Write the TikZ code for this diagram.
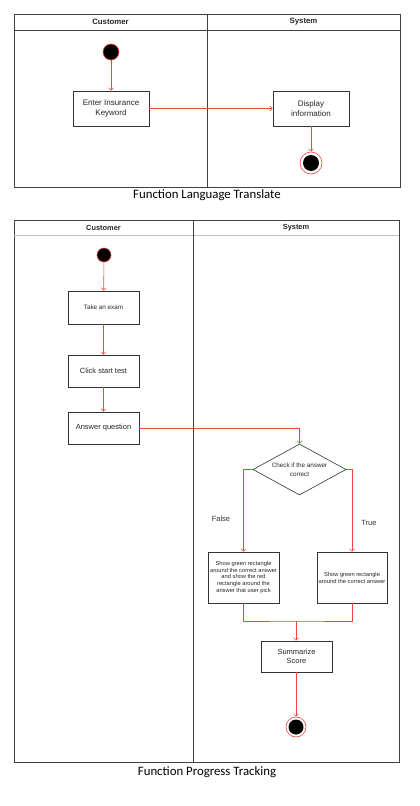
\documentclass[tikz,border=0pt]{standalone}
\usepackage{fontspec}
\setsansfont{Liberation Sans}
\newfontfamily\capfont{Carlito}
\usetikzlibrary{arrows.meta,positioning,shapes.geometric}
\definecolor{flowred}{RGB}{238,70,60}

\begin{document}
\begin{tikzpicture}[x=1pt,y=-1pt,
  lane/.style={draw=black!75,line width=0.8pt},
  head/.style={font=\sffamily\bfseries\fontsize{7.8}{9}\selectfont,text=black!85},
  act/.style={draw=black!80,fill=white,line width=0.7pt,align=center,inner sep=1pt,
    minimum width=71pt,minimum height=32pt,text=black!85,
    font=\sffamily\fontsize{7.5}{9}\selectfont},
  dec/.style={diamond,draw=black!80,line width=0.6pt,aspect=1.8,inner sep=0pt,align=center,
    minimum width=93pt,minimum height=51pt,text=black!85,
    font=\sffamily\fontsize{6.3}{9}\selectfont},
  init/.style={circle,fill=black,draw=flowred,line width=0.6pt,inner sep=0pt},
  final/.style={circle,draw=flowred,fill=white,line width=0.6pt,inner sep=0pt,
    path picture={\fill[black] (path picture bounding box.center) circle (#1);}},
  flow/.style={draw=flowred,line width=0.6pt,-{Straight Barb[length=2.5pt,width=5pt]}},
  flowline/.style={draw=flowred,line width=0.6pt},
  guard/.style={font=\sffamily\fontsize{7.5}{9}\selectfont,text=black!80},
  caption/.style={font=\capfont\fontsize{12.8}{15}\selectfont}]
  \useasboundingbox (0,0) rectangle (420,806);

  % Function Language Translate
  \draw[lane] (14,14) rectangle (400,187);
  \draw[lane] (14,30) -- (400,30);
  \draw[lane] (207,14) -- (207,187);
  \node[head] (custA) at (110.5,22) {Customer};
  \node[head] (sysA)  at (303.5,22) {System};

  \node[init,minimum size=16pt] (startA) at (111,52) {};
  \node[act,minimum width=76pt,minimum height=35pt,font=\sffamily\fontsize{8}{10}\selectfont]
    (keyword) at (111,108.5) {Enter Insurance\\Keyword};
  \node[act,minimum width=76pt,minimum height=35pt,font=\sffamily\fontsize{8}{10}\selectfont]
    (display) at (311,108.5) {Display\\information};
  \node[final=8pt,minimum size=22pt] (endA) at (311,163) {};

  \draw[flow] (startA) -- (keyword);
  \draw[flow] (keyword) -- (display);
  \draw[flow] (display) -- (endA);

  \node[caption] (capA) at (207,195) {Function Language Translate};

  % Function Progress Tracking
  \draw[lane] (14,220) rectangle (399,762);
  \draw[draw=black!25,line width=0.8pt] (14.4,235) -- (398.6,235);
  \draw[lane] (193,220) -- (193,762);
  \node[head,font=\sffamily\bfseries\fontsize{7.4}{9}\selectfont] (custB) at (103.5,227.5) {Customer};
  \node[head,font=\sffamily\bfseries\fontsize{7.4}{9}\selectfont] (sysB)  at (296,227.5) {System};

  \node[init,minimum size=14pt] (startB) at (104,255) {};
  \node[act,minimum height=33pt,font=\sffamily\fontsize{6.3}{8}\selectfont] (exam) at (103.5,307.5) {Take an exam};
  \node[act] (click)  at (103.5,371) {Click start test};
  \node[act] (answer) at (103.5,428) {Answer question};

  \node[dec] (check) at (299.5,469.5) {Check if the answer\\correct};
  \node[act,minimum height=51pt,font=\sffamily\fontsize{5.75}{6.9}\selectfont] (wrong) at (243.5,577.5)
    {Show green rectangle\\around the correct answer\\and show the red\\rectangle around the\\answer that user pick};
  \node[act,minimum width=70pt,minimum height=51pt,font=\sffamily\fontsize{5.75}{6.9}\selectfont] (right) at (352,577.5)
    {Show green rectangle\\around the correct answer};
  \coordinate (merge) at (296,621);
  \node[act,minimum height=31pt] (summ) at (296.5,656.5) {Summarize\\Score};
  \node[final=7.5pt,minimum size=20pt] (endB) at (296,727) {};

  \node[guard] (lblF) at (221,519) {False};
  \node[guard] (lblT) at (369,523) {True};

  \draw[flow] (startB) -- (exam);
  \draw[flow] (exam) -- (click);
  \draw[flow] (click) -- (answer);
  \draw[flow] (answer.east) -| (check.north);
  \draw[flow] (check.west) -| (wrong.north);
  \draw[flow] (check.east) -| (right.north);
  \draw[flowline] (wrong.south) |- (merge) -| (right.south);
  \draw[flow] (merge) -- (summ.north -| merge);
  \draw[flow] (summ.south -| endB) -- (endB);

  \node[caption] (capB) at (207,772) {Function Progress Tracking};
\end{tikzpicture}
\end{document}
